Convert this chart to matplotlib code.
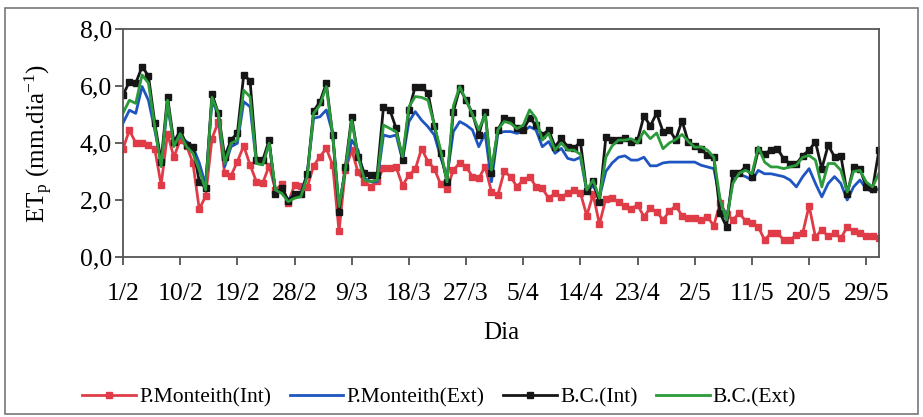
import numpy as np
import matplotlib
matplotlib.use("Agg")
import matplotlib.pyplot as plt
from matplotlib.patches import Rectangle

plt.rcParams['font.family'] = ['Liberation Serif', 'DejaVu Serif']
plt.rcParams['mathtext.fontset'] = 'custom'
plt.rcParams['mathtext.rm'] = 'Liberation Serif'
plt.rcParams['mathtext.it'] = 'Liberation Serif:italic'

# daily ETp, 1/2 to 31/5 (120 days)
pm_int = [3.80, 4.45, 4.00, 4.00, 3.93, 3.78, 2.53, 4.33, 3.50, 4.10,
          3.90, 3.30, 1.68, 2.13, 4.15, 4.75, 2.93, 2.85, 3.35, 3.90,
          3.23, 2.64, 2.60, 3.20, 2.35, 2.55, 1.90, 2.53, 2.50, 2.45,
          3.20, 3.52, 3.81, 3.23, 0.90, 3.05, 3.75, 2.97, 2.64, 2.47,
          2.67, 3.12, 3.12, 3.15, 2.50, 2.88, 3.08, 3.80, 3.35, 3.10,
          2.55, 2.40, 3.05, 3.30, 3.17, 2.82, 2.76, 3.17, 2.29, 2.17,
          3.00, 2.82, 2.47, 2.70, 2.82, 2.47, 2.41, 2.06, 2.23, 2.12,
          2.23, 2.35, 2.25, 1.45, 2.20, 1.15, 2.05, 2.06, 1.94, 1.80,
          1.70, 1.82, 1.42, 1.71, 1.59, 1.30, 1.60, 1.80, 1.45, 1.38,
          1.36, 1.30, 1.40, 1.10, 1.90, 1.50, 1.30, 1.55, 1.26, 1.20,
          1.05, 0.60, 0.84, 0.84, 0.60, 0.60, 0.78, 0.84, 1.80, 0.70,
          0.96, 0.72, 0.84, 0.66, 1.05, 0.90, 0.84, 0.75, 0.72, 0.66]

pm_ext = [4.70, 5.15, 5.04, 5.98, 5.50, 4.45, 3.30, 5.27, 4.05, 4.22,
          4.05, 3.87, 3.30, 2.53, 5.50, 4.98, 3.17, 3.87, 3.99, 5.45,
          5.27, 3.28, 3.28, 3.99, 2.30, 2.37, 2.00, 2.23, 2.23, 2.94,
          4.87, 4.92, 5.16, 4.34, 1.77, 3.05, 4.10, 3.75, 2.76, 2.64,
          2.64, 4.28, 4.22, 4.28, 3.40, 4.75, 5.10, 4.80, 4.57, 4.28,
          3.50, 2.82, 4.40, 4.75, 4.63, 4.46, 3.87, 4.34, 2.64, 4.34,
          4.40, 4.40, 4.34, 4.40, 4.57, 4.46, 3.87, 4.05, 3.64, 3.81,
          3.46, 3.40, 3.50, 2.30, 2.50, 2.10, 3.00, 3.30, 3.50, 3.55,
          3.40, 3.40, 3.50, 3.20, 3.20, 3.30, 3.33, 3.33, 3.33, 3.33,
          3.33, 3.22, 3.16, 3.10, 2.00, 1.30, 2.70, 2.90, 2.82, 2.70,
          3.04, 2.92, 2.92, 2.87, 2.82, 2.70, 2.46, 2.82, 3.10, 2.58,
          2.11, 2.58, 2.82, 2.58, 2.00, 2.46, 2.70, 2.40, 2.28, 2.40]

bc_int = [5.68, 6.15, 6.10, 6.68, 6.35, 4.70, 3.35, 5.63, 4.02, 4.45,
          3.93, 3.87, 2.64, 2.42, 5.72, 5.05, 3.52, 4.10, 4.35, 6.39,
          6.18, 3.40, 3.40, 4.10, 2.22, 2.43, 1.97, 2.20, 2.20, 2.90,
          5.12, 5.45, 6.09, 4.28, 1.59, 3.17, 4.92, 3.52, 2.94, 2.88,
          2.88, 5.27, 5.16, 4.51, 3.42, 5.15, 5.98, 5.95, 5.77, 4.60,
          3.64, 2.64, 5.10, 5.92, 5.50, 5.04, 4.28, 5.10, 2.94, 4.46,
          4.87, 4.80, 4.51, 4.46, 4.87, 4.63, 4.28, 4.46, 3.87, 4.16,
          3.87, 3.81, 4.05, 2.30, 2.65, 1.94, 4.20, 4.10, 4.10, 4.16,
          4.05, 4.10, 4.95, 4.60, 5.04, 4.40, 4.46, 4.12, 4.78, 4.02,
          3.90, 3.78, 3.58, 3.50, 1.53, 1.06, 2.94, 2.94, 3.17, 2.82,
          3.75, 3.63, 3.75, 3.80, 3.45, 3.27, 3.27, 3.56, 3.75, 4.04,
          3.10, 3.92, 3.52, 3.56, 2.22, 3.15, 3.10, 2.46, 2.40, 3.75]

bc_ext = [5.05, 5.50, 5.39, 6.39, 6.10, 4.57, 3.17, 5.50, 3.87, 4.33,
          3.87, 3.64, 3.05, 2.35, 5.60, 5.04, 3.28, 3.99, 4.10, 5.85,
          5.62, 3.28, 3.23, 3.99, 2.35, 2.23, 1.94, 2.06, 2.12, 2.82,
          5.04, 5.33, 5.98, 4.28, 1.77, 3.05, 4.80, 3.52, 2.70, 2.64,
          2.70, 4.63, 4.51, 4.40, 3.52, 5.27, 5.63, 5.60, 5.50, 4.63,
          3.75, 2.64, 5.30, 5.98, 5.50, 5.00, 4.46, 5.00, 3.05, 4.46,
          4.75, 4.70, 4.50, 4.63, 5.16, 4.87, 4.10, 4.34, 3.75, 4.00,
          3.75, 3.75, 3.60, 2.35, 2.70, 2.06, 3.50, 3.90, 4.10, 4.10,
          4.15, 4.00, 4.42, 4.15, 4.35, 3.80, 4.00, 4.12, 4.30, 4.05,
          3.85, 3.86, 3.75, 3.50, 2.00, 1.30, 2.58, 2.94, 3.04, 2.92,
          3.86, 3.33, 3.16, 3.16, 3.10, 3.16, 3.22, 3.50, 3.56, 3.40,
          2.46, 3.28, 3.28, 3.04, 2.28, 3.00, 3.04, 2.63, 2.46, 2.94]

x_tick_labels = ['1/2', '10/2', '19/2', '28/2', '9/3', '18/3', '27/3',
                 '5/4', '14/4', '23/4', '2/5', '11/5', '20/5', '29/5']
y_ticks = [0, 2, 4, 6, 8]
y_tick_labels = ['0,0', '2,0', '4,0', '6,0', '8,0']

days = np.arange(len(pm_int))

fig = plt.figure(figsize=(9.23, 4.17), dpi=100)
ax = fig.add_axes([0.1333, 0.3837, 0.819, 0.5468])

ax.plot(days, pm_int, color='#E03C48', lw=2.0, marker='s', ms=4.2,
        label='P.Monteith(Int)')
ax.plot(days, pm_ext, color='#1F55C0', lw=2.0, label='P.Monteith(Ext)')
ax.plot(days, bc_int, color='#161616', lw=2.0, marker='s', ms=4.0,
        label='B.C.(Int)')
ax.plot(days, bc_ext, color='#2A9A3A', lw=2.0, label='B.C.(Ext)')

ax.set_xlim(0, len(days) - 1)
ax.set_ylim(0, 8)
ax.set_xticks(days[::9])
ax.set_xticklabels(x_tick_labels)
ax.set_yticks(y_ticks)
ax.set_yticklabels(y_tick_labels)
ax.tick_params(axis='x', direction='out', length=6, width=1.2, pad=13,
               labelsize=18.5, color='#444444')
ax.tick_params(axis='y', direction='out', length=6, width=1.2, pad=2,
               labelsize=18.5, color='#444444')
for sp in ax.spines.values():
    sp.set_color('#555555')
    sp.set_linewidth(1.3)

ax.set_ylabel(r'ET$_{\mathrm{p}}$ (mm.dia$^{\mathrm{-1}}$)', fontsize=18,
              va='center')
ax.yaxis.set_label_coords(-0.112, 0.5)
ax.set_xlabel('Dia', fontsize=18, va='center')
ax.xaxis.set_label_coords(0.5, -0.333)

fig.legend(loc='center', bbox_to_anchor=(0.476, 0.046), ncol=4,
           frameon=False, fontsize=15.5, handlelength=2.5, numpoints=1,
           handletextpad=0.15, columnspacing=0.85)

# outer chart border
fig.patches.append(Rectangle((0.0054, 0.0072), 0.989, 0.9736,
                             transform=fig.transFigure, fill=False,
                             edgecolor='#777777', lw=1.2))

fig.savefig('out.png', dpi=100)
